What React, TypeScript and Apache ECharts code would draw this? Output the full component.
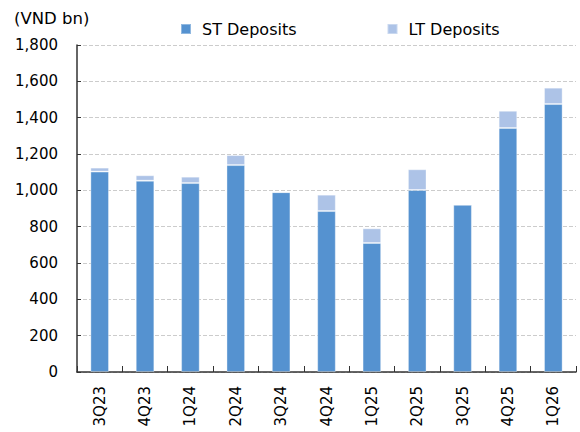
import React, { useEffect, useRef } from "react";
import * as echarts from "echarts";

const categories = ["3Q23", "4Q23", "1Q24", "2Q24", "3Q24", "4Q24", "1Q25", "2Q25", "3Q25", "4Q25", "1Q26"];
const stDeposits = [1103, 1053, 1040, 1139, 990, 886, 710, 1002, 920, 1343, 1475];
const ltDeposits = [22, 30, 35, 55, 3, 90, 81, 114, 3, 95, 90];
const yTicks = { min: 0, max: 1800, interval: 200 };
const unitLabel = "(VND bn)";
const seriesNames = ["ST Deposits", "LT Deposits"];

const FONT = "'DejaVu Sans', Verdana, sans-serif";

export default function App() {
  const ref = useRef<HTMLDivElement>(null);
  useEffect(() => {
    if (!ref.current) return;
    const chart = echarts.init(ref.current, undefined, { renderer: "svg" });
    chart.setOption({
      animation: false,
      backgroundColor: "#ffffff",
      textStyle: { fontFamily: FONT },
      graphic: [
        {
          type: "text",
          left: 14,
          top: 10,
          style: { text: unitLabel, fontFamily: FONT, fontSize: 16.5, fill: "#000" },
        },
      ],
      legend: {
        left: 180,
        top: 21,
        padding: 0,
        itemWidth: 10,
        itemHeight: 10,
        itemGap: 90,
        icon: "rect",
        textStyle: { fontFamily: FONT, fontSize: 16, color: "#000", padding: [0, 0, 0, 6] },
        data: seriesNames,
      },
      grid: { left: 77, right: 4, top: 45, bottom: 60, containLabel: false },
      xAxis: {
        type: "category",
        data: categories,
        boundaryGap: true,
        axisLine: { show: true, lineStyle: { color: "#333", width: 1.5 } },
        axisTick: { show: true, inside: true, length: 6, alignWithLabel: false, lineStyle: { color: "#333" } },
        axisLabel: { rotate: 90, margin: 14, fontFamily: FONT, fontSize: 15, color: "#000", interval: 0 },
        splitLine: { show: false },
      },
      yAxis: {
        type: "value",
        min: yTicks.min,
        max: yTicks.max,
        interval: yTicks.interval,
        axisLine: { show: true, lineStyle: { color: "#333", width: 1.5 } },
        axisTick: { show: true, inside: true, length: 4, lineStyle: { color: "#333" } },
        axisLabel: {
          margin: 19,
          fontFamily: FONT,
          fontSize: 15,
          color: "#000",
          formatter: (v: number) => v.toLocaleString("en-US"),
        },
        splitLine: { show: true, lineStyle: { color: "#cccccc", type: [4, 2], width: 1 } },
      },
      series: [
        {
          name: seriesNames[0],
          type: "bar",
          stack: "dep",
          data: stDeposits,
          barWidth: "41%",
          itemStyle: { color: "#5592d0", borderColor: "rgba(255,255,255,0.35)", borderWidth: 1 },
        },
        {
          name: seriesNames[1],
          type: "bar",
          stack: "dep",
          data: ltDeposits,
          barWidth: "41%",
          itemStyle: { color: "#adc3e7", borderColor: "rgba(255,255,255,0.35)", borderWidth: 1 },
        },
      ],
    });
    return () => chart.dispose();
  }, []);
  return <div ref={ref} style={{ width: 580, height: 432, position: "absolute", left: 0, top: 0 }} />;
}
